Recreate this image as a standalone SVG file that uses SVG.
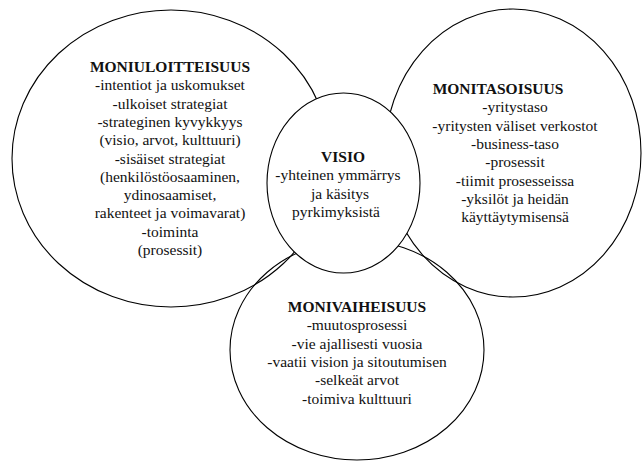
<svg xmlns="http://www.w3.org/2000/svg" width="642" height="461" viewBox="0 0 642 461">
  <style>
    .ring { fill: none; stroke: #000; stroke-width: 1.1; }
    .core { fill: #fff; stroke: #000; stroke-width: 1.1; }
    .lbl { font-family: "Liberation Serif", "Times New Roman", serif; font-size: 15.5px; fill: #111; text-anchor: middle; }
    .head { font-weight: bold; }
  </style>
  <rect width="642" height="461" fill="#fff"/>

  <!-- left ring: dimensions of change -->
  <g id="moniuloitteisuus">
    <ellipse class="ring" cx="171" cy="158.5" rx="159" ry="148.5"/>
    <text class="lbl head" x="170" y="72">MONIULOITTEISUUS</text>
    <text class="lbl" x="170" y="90.3">-intentiot ja uskomukset</text>
    <text class="lbl" x="170" y="108.6">-ulkoiset strategiat</text>
    <text class="lbl" x="170" y="126.9">-strateginen kyvykkyys</text>
    <text class="lbl" x="170" y="145.2">(visio, arvot, kulttuuri)</text>
    <text class="lbl" x="170" y="163.5">-sisäiset strategiat</text>
    <text class="lbl" x="170" y="181.8">(henkilöstöosaaminen,</text>
    <text class="lbl" x="170" y="200.1">ydinosaamiset,</text>
    <text class="lbl" x="170" y="218.4">rakenteet ja voimavarat)</text>
    <text class="lbl" x="170" y="236.7">-toiminta</text>
    <text class="lbl" x="170" y="255">(prosessit)</text>
  </g>

  <!-- right ring: organisational levels -->
  <g id="monitasoisuus">
    <ellipse class="ring" cx="513" cy="153" rx="128" ry="144"/>
    <text class="lbl head" x="498" y="94">MONITASOISUUS</text>
    <text class="lbl" x="515" y="112.3">-yritystaso</text>
    <text class="lbl" x="515" y="130.6">-yritysten väliset verkostot</text>
    <text class="lbl" x="515" y="148.9">-business-taso</text>
    <text class="lbl" x="515" y="167.2">-prosessit</text>
    <text class="lbl" x="515" y="185.5">-tiimit prosesseissa</text>
    <text class="lbl" x="515" y="203.8">-yksilöt ja heidän</text>
    <text class="lbl" x="515" y="222.1">käyttäytymisensä</text>
  </g>

  <!-- bottom ring: phases over time -->
  <g id="monivaiheisuus">
    <ellipse class="ring" cx="357" cy="350" rx="127" ry="110"/>
    <text class="lbl head" x="357" y="312">MONIVAIHEISUUS</text>
    <text class="lbl" x="357" y="330.3">-muutosprosessi</text>
    <text class="lbl" x="357" y="348.6">-vie ajallisesti vuosia</text>
    <text class="lbl" x="357" y="366.9">-vaatii vision ja sitoutumisen</text>
    <text class="lbl" x="357" y="385.2">-selkeät arvot</text>
    <text class="lbl" x="357" y="403.5">-toimiva kulttuuri</text>
  </g>

  <!-- centre: shared vision, drawn last so it covers the ring overlaps -->
  <g id="visio">
    <ellipse class="core" cx="343.5" cy="183" rx="76.5" ry="90"/>
    <text class="lbl head" x="343" y="162">VISIO</text>
    <text class="lbl" x="338" y="180.3">-yhteinen ymmärrys</text>
    <text class="lbl" x="340" y="198.6">ja käsitys</text>
    <text class="lbl" x="336" y="216.9">pyrkimyksistä</text>
  </g>

  <g id="connectors"/>
</svg>
